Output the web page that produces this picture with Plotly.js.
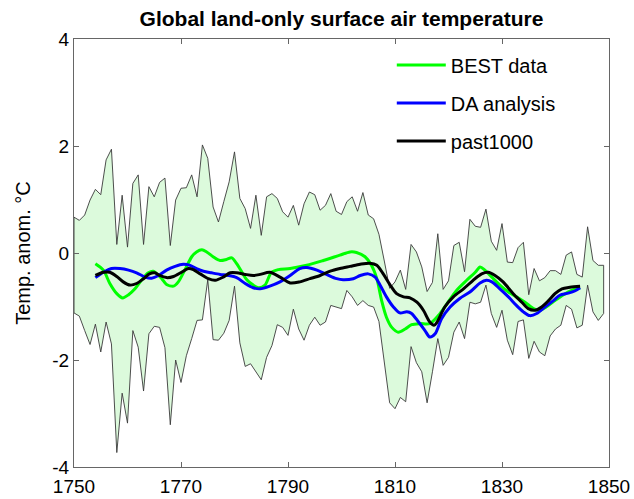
<!DOCTYPE html>
<html>
<head>
<meta charset="utf-8">
<script src="https://cdn.plot.ly/plotly-3.0.1.min.js"></script>
<style>
  html, body { margin: 0; padding: 0; background: #fff; }
  #chart { width: 634px; height: 499px; }
</style>
</head>
<body>
<div id="chart"></div>
<script>
// ---- Envelope (annual, 1750-1849) ----
const envYears = [
  1750,1751,1752,1753,1754,1755,1756,1757,1758,1759,
  1760,1761,1762,1763,1764,1765,1766,1767,1768,1769,
  1770,1771,1772,1773,1774,1775,1776,1777,1778,1779,
  1780,1781,1782,1783,1784,1785,1786,1787,1788,1789,
  1790,1791,1792,1793,1794,1795,1796,1797,1798,1799,
  1800,1801,1802,1803,1804,1805,1806,1807,1808,1809,
  1810,1811,1812,1813,1814,1815,1816,1817,1818,1819,
  1820,1821,1822,1823,1824,1825,1826,1827,1828,1829,
  1830,1831,1832,1833,1834,1835,1836,1837,1838,1839,
  1840,1841,1842,1843,1844,1845,1846,1847,1848,1849
];
const envUpper = [
  0.67,0.61,0.71,0.99,1.19,1.09,1.74,1.94,0.16,1.08,
  0.11,1.30,1.46,0.16,1.24,1.05,1.32,1.40,0.14,0.99,
  1.21,1.22,1.46,1.05,2.02,1.77,0.86,0.58,0.96,1.33,
  1.89,1.02,0.83,0.46,1.08,0.33,1.05,1.11,1.02,0.77,
  0.67,0.89,0.52,0.92,1.14,1.09,0.80,0.89,1.11,0.78,
  0.72,0.96,1.05,0.78,1.13,0.71,0.64,0.35,-0.15,-0.66,
  -0.54,-0.32,-0.68,0.16,0.02,-0.26,-0.72,-0.55,0.36,-0.68,
  -0.52,0.14,0.20,-0.35,0.63,0.50,0.48,0.82,0.22,0.05,
  0.55,-0.17,-0.18,0.10,0.20,-0.78,-0.29,-0.52,-0.46,-0.33,
  -0.33,-0.40,-0.04,0.02,-0.40,-0.45,0.49,-0.14,-0.23,-0.23
];
const envLower = [
  -1.12,-1.18,-1.45,-1.71,-1.33,-1.85,-1.29,-1.70,-3.73,-2.62,
  -3.18,-1.45,-1.76,-2.58,-1.51,-1.37,-1.39,-1.77,-3.21,-2.00,
  -2.42,-1.92,-1.60,-1.26,-1.25,-0.50,-1.62,-1.63,-1.50,-1.26,
  -0.62,-1.68,-2.12,-2.07,-2.22,-2.37,-1.95,-1.73,-1.34,-1.39,
  -1.54,-1.05,-1.42,-1.63,-1.35,-1.20,-1.35,-1.29,-0.98,-1.01,
  -1.04,-0.70,-0.82,-0.98,-0.89,-0.98,-1.01,-1.28,-2.05,-2.80,
  -2.91,-2.70,-2.78,-1.75,-2.05,-2.22,-2.80,-2.22,-1.60,-2.10,
  -1.95,-1.48,-1.29,-1.60,-0.92,-0.95,-0.92,-0.60,-1.13,-1.39,
  -1.07,-1.63,-1.90,-1.28,-1.25,-1.97,-1.65,-1.85,-1.92,-1.55,
  -1.42,-1.35,-0.98,-1.05,-1.40,-1.35,-0.60,-1.10,-1.26,-1.13
];

// ---- BEST data ----
const bestYears = [1754.0,1755.5,1756.7,1758.0,1759.1,1760.2,1761.4,1762.6,1763.9,1764.8,
  1766.4,1767.3,1768.6,1769.5,1770.7,1772.0,1772.9,1773.9,1774.8,1776.0,
  1777.3,1778.5,1779.5,1780.4,1781.4,1782.3,1783.5,1784.5,1785.7,1786.9,
  1788.2,1790.4,1793.5,1796.6,1799.7,1801.6,1802.8,1804.4,1805.6,1806.6,
  1807.5,1808.4,1809.4,1810.6,1811.9,1813.1,1814.7,1816.5,1818.1,1819.7,
  1821.5,1823.4,1825.0,1825.9,1826.8,1828.1,1829.6,1831.2,1832.7,1834.3,
  1835.9,1837.1,1838.4,1839.9,1841.5,1843.0,1844.6];
const bestVals = [-0.20,-0.32,-0.57,-0.76,-0.84,-0.78,-0.67,-0.51,-0.37,-0.34,
  -0.48,-0.59,-0.62,-0.54,-0.32,-0.07,0.02,0.06,0.02,-0.07,
  -0.14,-0.12,-0.09,-0.20,-0.36,-0.50,-0.60,-0.65,-0.60,-0.36,
  -0.31,-0.29,-0.23,-0.14,-0.04,0.02,0.01,-0.07,-0.23,-0.48,
  -0.89,-1.20,-1.39,-1.48,-1.42,-1.34,-1.32,-1.32,-1.17,-0.95,
  -0.70,-0.51,-0.36,-0.26,-0.32,-0.45,-0.60,-0.73,-0.82,-0.92,
  -1.04,-1.07,-1.00,-0.89,-0.78,-0.70,-0.65];

// ---- DA analysis ----
const daYears = [1754.0,1755.5,1757.0,1758.6,1760.2,1761.7,1763.3,1764.5,1765.8,1767.3,
  1768.9,1770.4,1771.7,1772.9,1774.2,1775.7,1777.3,1778.8,1780.4,1782.0,
  1783.5,1784.8,1786.6,1788.5,1790.4,1792.2,1793.5,1795.4,1797.2,1799.1,
  1800.3,1802.2,1803.5,1805.0,1806.3,1807.2,1808.4,1809.7,1810.9,1812.2,
  1813.1,1814.4,1815.6,1816.5,1817.5,1818.7,1820.3,1822.1,1824.0,1825.9,
  1827.1,1828.1,1829.6,1831.2,1832.7,1834.0,1835.2,1836.5,1838.0,1839.6,
  1840.8,1842.4,1843.6,1844.6];
const daVals = [-0.46,-0.36,-0.29,-0.29,-0.32,-0.37,-0.45,-0.47,-0.42,-0.32,
  -0.25,-0.21,-0.23,-0.29,-0.34,-0.37,-0.40,-0.42,-0.46,-0.57,
  -0.65,-0.67,-0.62,-0.54,-0.42,-0.29,-0.27,-0.32,-0.40,-0.48,
  -0.50,-0.48,-0.42,-0.39,-0.45,-0.60,-0.82,-1.01,-1.12,-1.10,
  -1.13,-1.29,-1.45,-1.57,-1.51,-1.23,-1.01,-0.85,-0.73,-0.56,
  -0.51,-0.54,-0.67,-0.82,-0.98,-1.10,-1.17,-1.13,-1.01,-0.89,
  -0.79,-0.75,-0.71,-0.65];

// ---- past1000 ----
const pastYears = [1754.0,1755.5,1756.7,1758.0,1759.2,1760.5,1761.7,1763.0,1764.1,1765.1,
  1766.0,1767.3,1768.6,1770.1,1771.4,1772.3,1773.6,1775.1,1776.4,1777.9,
  1779.2,1780.4,1782.0,1783.5,1784.8,1786.6,1788.5,1790.4,1792.2,1794.1,
  1796.0,1797.9,1799.7,1801.6,1803.5,1805.3,1806.6,1807.8,1809.1,1810.3,
  1811.6,1812.8,1814.1,1815.3,1816.5,1817.3,1817.8,1819.3,1820.9,1822.8,
  1824.6,1826.2,1827.4,1828.7,1830.2,1832.1,1833.7,1834.9,1836.2,1837.4,
  1838.7,1839.9,1841.2,1842.7,1844.6];
const pastVals = [-0.42,-0.36,-0.36,-0.44,-0.54,-0.60,-0.57,-0.48,-0.39,-0.37,
  -0.42,-0.46,-0.44,-0.36,-0.29,-0.31,-0.39,-0.48,-0.51,-0.45,
  -0.37,-0.37,-0.40,-0.42,-0.40,-0.36,-0.45,-0.56,-0.54,-0.48,
  -0.42,-0.34,-0.29,-0.25,-0.21,-0.19,-0.23,-0.39,-0.60,-0.76,
  -0.82,-0.84,-0.92,-1.07,-1.29,-1.35,-1.30,-1.01,-0.82,-0.67,
  -0.51,-0.39,-0.36,-0.42,-0.54,-0.76,-0.92,-1.04,-1.07,-1.01,
  -0.89,-0.76,-0.67,-0.64,-0.62];

// ---- Tick labels ----
const xTickVals = [1750,1770,1790,1810,1830,1850];
const xTickText = ["1750","1770","1790","1810","1830","1850"];
const yTickVals = [-4,-2,0,2,4];
const yTickText = ["-4","-2","0","2","4"];

// Closed polygon for the envelope
const polyX = envYears.concat(envYears.slice().reverse(), [envYears[0]]);
const polyY = envUpper.concat(envLower.slice().reverse(), [envUpper[0]]);

const FONT = 'Liberation Sans, Arial, sans-serif';

const traces = [
  {
    x: polyX, y: polyY, type: 'scatter', mode: 'lines',
    fill: 'toself', fillcolor: '#dcfadc',
    line: {color: '#3a3a3a', width: 0.9},
    showlegend: false, hoverinfo: 'skip'
  },
  {
    x: bestYears, y: bestVals, type: 'scatter', mode: 'lines', name: 'BEST data',
    line: {color: '#00ff00', width: 3, shape: 'spline', smoothing: 0.8},
    legendgroup: 'a'
  },
  {
    x: daYears, y: daVals, type: 'scatter', mode: 'lines', name: 'DA analysis',
    line: {color: '#0000ff', width: 3, shape: 'spline', smoothing: 0.8},
    legendgroup: 'b'
  },
  {
    x: pastYears, y: pastVals, type: 'scatter', mode: 'lines', name: 'past1000',
    line: {color: '#000000', width: 3, shape: 'spline', smoothing: 0.8},
    legendgroup: 'c'
  }
];

const layout = {
  width: 634, height: 499,
  margin: {l: 74, r: 25, t: 39, b: 32, pad: 0},
  paper_bgcolor: '#ffffff', plot_bgcolor: '#ffffff',
  font: {family: FONT, size: 19, color: '#000000'},
  title: {
    text: 'Global land-only surface air temperature',
    font: {family: FONT, size: 21, color: '#000000', weight: 'bold'},
    x: 0.5, xref: 'paper', xanchor: 'center',
    y: 0.963, yref: 'container', yanchor: 'middle'
  },
  xaxis: {
    range: [1750, 1850], tickvals: xTickVals, ticktext: xTickText,
    ticks: 'inside', ticklen: 5, tickcolor: '#666666',
    showline: true, linecolor: '#666666', linewidth: 1, mirror: 'ticks',
    showgrid: false, zeroline: false, ticklabelstandoff: 2,
    tickfont: {family: FONT, size: 19, color: '#000000'}
  },
  yaxis: {
    range: [-4, 4], tickvals: yTickVals, ticktext: yTickText,
    ticks: 'inside', ticklen: 5, tickcolor: '#666666',
    showline: true, linecolor: '#666666', linewidth: 1, mirror: 'ticks',
    showgrid: false, zeroline: false,
    tickfont: {family: FONT, size: 19, color: '#000000'},
    title: {text: 'Temp. anom. °C', font: {family: FONT, size: 20, color: '#000000'}, standoff: 16}
  },
  legend: {
    x: 0.594, y: 0.985, xanchor: 'left', yanchor: 'top',
    bgcolor: 'rgba(0,0,0,0)', borderwidth: 0,
    font: {family: FONT, size: 20, color: '#000000'},
    traceorder: 'grouped', tracegroupgap: 9, itemwidth: 49
  },
  showlegend: true
};

Plotly.newPlot('chart', traces, layout, {displayModeBar: false, staticPlot: true});
</script>
</body>
</html>
